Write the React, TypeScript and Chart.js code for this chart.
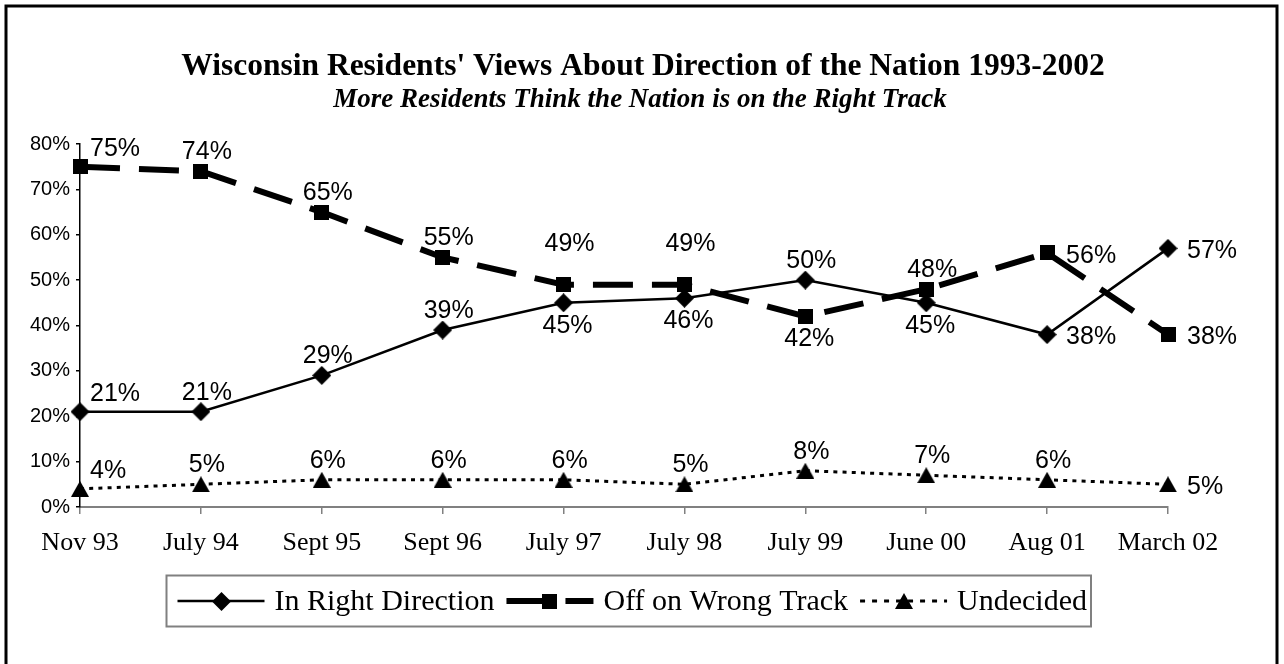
import React, { useEffect, useRef } from "react";
import { Chart, registerables } from "chart.js";

Chart.register(...registerables);

const categories = ["Nov 93", "July 94", "Sept 95", "Sept 96", "July 97", "July 98", "July 99", "June 00", "Aug 01", "March 02"];
const rightDirection = [21, 21, 29, 39, 45, 46, 50, 45, 38, 57];
const wrongTrack = [75, 74, 65, 55, 49, 49, 42, 48, 56, 38];
const undecided = [4, 5, 6, 6, 6, 5, 8, 7, 6, 5];
const yTickValues = [0, 10, 20, 30, 40, 50, 60, 70, 80];
const seriesNames = ["In Right Direction", "Off on Wrong Track", "Undecided"];
const titleText = "Wisconsin Residents' Views About Direction of the Nation 1993-2002";
const subtitleText = "More Residents Think the Nation is on the Right Track";

const W = 1284;
const H = 664;

function makeMarker(kind: string): HTMLCanvasElement {
  const c = document.createElement("canvas");
  let w = 19;
  let h = 19;
  if (kind === "rect") { w = 15; h = 15; }
  if (kind === "triangle") { w = 18; h = 16; }
  c.width = w;
  c.height = h;
  const ctx = c.getContext("2d") as CanvasRenderingContext2D;
  ctx.fillStyle = "#000";
  ctx.beginPath();
  if (kind === "rectRot") {
    ctx.moveTo(w / 2, 0);
    ctx.lineTo(w, h / 2);
    ctx.lineTo(w / 2, h);
    ctx.lineTo(0, h / 2);
  } else if (kind === "rect") {
    ctx.rect(0, 0, w, h);
  } else {
    ctx.moveTo(w / 2, 0);
    ctx.lineTo(w, h);
    ctx.lineTo(0, h);
  }
  ctx.closePath();
  ctx.fill();
  return c;
}

const framePlugin = {
  id: "frame",
  beforeDraw(chart: any) {
    const ctx = chart.ctx as CanvasRenderingContext2D;
    ctx.save();
    ctx.fillStyle = "#fff";
    ctx.fillRect(0, 0, W, H);
    ctx.restore();
  },
  afterDraw(chart: any) {
    const ctx = chart.ctx as CanvasRenderingContext2D;
    ctx.save();
    ctx.strokeStyle = "#000";
    ctx.lineWidth = 3;
    ctx.strokeRect(6, 6, 1271, H + 20);
    ctx.fillStyle = "#000";
    ctx.textAlign = "center";
    ctx.textBaseline = "alphabetic";
    ctx.font = "bold 31.5px 'Liberation Serif'";
    ctx.fillText(titleText, 643, 75);
    ctx.font = "italic bold 27px 'Liberation Serif'";
    ctx.fillText(subtitleText, 640, 107);
    ctx.restore();
  },
};

const labelPlugin = {
  id: "valueLabels",
  afterDatasetsDraw(chart: any) {
    const ctx = chart.ctx as CanvasRenderingContext2D;
    ctx.save();
    ctx.fillStyle = "#000";
    ctx.font = "25px 'Liberation Sans'";
    chart.data.datasets.forEach((ds: any, di: number) => {
      const meta = chart.getDatasetMeta(di);
      meta.data.forEach((pt: any, i: number) => {
        const pos = ds.labelPos[i];
        const txt = ds.data[i] + "%";
        let x = pt.x;
        let y = pt.y;
        ctx.textBaseline = "middle";
        if (pos === "n") { ctx.textAlign = "center"; x += 6; y -= 19; }
        else if (pos === "nn") { ctx.textAlign = "center"; x += 6; y -= 41; }
        else if (pos === "s") { ctx.textAlign = "center"; x += 4; y += 23; }
        else if (pos === "ne") { ctx.textAlign = "left"; x += 10; y -= 18; }
        else { ctx.textAlign = "left"; x += 19; y += 3; }
        ctx.fillText(txt, x, y);
      });
    });
    ctx.restore();
  },
};

const legendPlugin = {
  id: "boxLegend",
  afterDraw(chart: any) {
    const ctx = chart.ctx as CanvasRenderingContext2D;
    ctx.save();
    ctx.font = "30px 'Liberation Serif'";
    const sample = 87;
    const gapAfterSample = 10;
    const gapAfterText = 12;
    const padL = 11;
    const padR = 4;
    const items = chart.data.datasets.map((ds: any) => ({ ds, w: ctx.measureText(ds.label).width }));
    let total = padL + padR;
    items.forEach((it: any, k: number) => {
      total += sample + gapAfterSample + it.w + (k < items.length - 1 ? gapAfterText : 0);
    });
    const cx = 628;
    const left = Math.round(cx - total / 2) + 0.5;
    const top = 575.5;
    const bottom = 626.5;
    ctx.strokeStyle = "#808080";
    ctx.lineWidth = 2;
    ctx.strokeRect(left, top, total, bottom - top);
    const my = 601;
    let x = left + padL;
    items.forEach((it: any) => {
      const ds = it.ds;
      ctx.save();
      ctx.strokeStyle = "#000";
      ctx.lineWidth = ds.borderWidth;
      ctx.setLineDash(ds.legendDash || ds.borderDash || []);
      ctx.lineCap = "butt";
      ctx.beginPath();
      ctx.moveTo(x, my);
      ctx.lineTo(x + sample, my);
      ctx.stroke();
      ctx.restore();
      const img = ds.pointStyle as HTMLCanvasElement;
      ctx.drawImage(img, Math.round(x + sample / 2 - img.width / 2), Math.round(my - img.height / 2));
      x += sample + gapAfterSample;
      ctx.fillStyle = "#000";
      ctx.textAlign = "left";
      ctx.textBaseline = "middle";
      ctx.fillText(ds.label, x, my + 1);
      x += it.w + gapAfterText;
    });
    ctx.restore();
  },
};

export default function App() {
  const ref = useRef<HTMLCanvasElement | null>(null);

  useEffect(() => {
    document.body.style.margin = "0";
    const canvas = ref.current;
    if (!canvas) return;
    const diamond = makeMarker("rectRot");
    const square = makeMarker("rect");
    const triangle = makeMarker("triangle");
    const chart = new Chart(canvas, {
      type: "line",
      data: {
        labels: categories,
        datasets: [
          {
            label: seriesNames[0],
            data: rightDirection,
            borderColor: "#000",
            backgroundColor: "#000",
            borderWidth: 2.5,
            pointStyle: diamond,
            pointRadius: 9,
            tension: 0,
            clip: false,
            labelPos: ["ne", "n", "n", "n", "s", "s", "n", "s", "e", "e"],
          } as any,
          {
            label: seriesNames[1],
            data: wrongTrack,
            borderColor: "#000",
            backgroundColor: "#000",
            borderWidth: 6,
            borderDash: [40, 19],
            borderCapStyle: "butt",
            pointStyle: square,
            pointRadius: 8,
            tension: 0,
            clip: false,
            labelPos: ["ne", "n", "n", "n", "nn", "nn", "s", "n", "e", "e"],
          } as any,
          {
            label: seriesNames[2],
            data: undecided,
            borderColor: "#000",
            backgroundColor: "#000",
            borderWidth: 3,
            borderDash: [4, 5.2],
            legendDash: [5, 7],
            borderCapStyle: "butt",
            pointStyle: triangle,
            pointRadius: 9,
            tension: 0,
            clip: false,
            labelPos: ["ne", "n", "n", "n", "n", "n", "n", "n", "n", "e"],
          } as any,
        ],
      },
      options: {
        responsive: false,
        animation: false,
        events: [],
        layout: { padding: { left: 0, top: 144, right: 116, bottom: 97 } },
        plugins: {
          legend: { display: false },
          title: { display: false },
          tooltip: { enabled: false },
        },
        scales: {
          x: {
            type: "category",
            offset: false,
            grid: {
              display: true,
              drawOnChartArea: false,
              drawTicks: true,
              tickLength: 7,
              color: "#808080",
              lineWidth: 1.5,
            },
            border: { display: true, color: "#808080", width: 2 },
            ticks: {
              color: "#000",
              font: { family: "'Liberation Serif'", size: 26 },
              padding: 14,
              maxRotation: 0,
              autoSkip: false,
            },
            afterFit: (s: any) => {
              s.height = 60;
            },
          },
          y: {
            min: 0,
            max: 80,
            afterBuildTicks: (s: any) => {
              s.ticks = yTickValues.map((v) => ({ value: v }));
            },
            grid: {
              display: true,
              drawOnChartArea: false,
              drawTicks: true,
              tickLength: 4,
              color: "#000",
              lineWidth: 1.5,
            },
            border: { display: true, color: "#000", width: 1.5 },
            ticks: {
              color: "#000",
              font: { family: "'Liberation Sans'", size: 20 },
              padding: 6,
              callback: (v: any) => v + "%",
            },
            afterFit: (s: any) => {
              s.width = 80;
            },
          },
        },
      },
      plugins: [framePlugin, labelPlugin, legendPlugin],
    } as any);
    return () => chart.destroy();
  }, []);

  return (
    <div style={{ width: W, height: H }}>
      <canvas ref={ref} width={W} height={H} style={{ display: "block", width: W, height: H }} />
    </div>
  );
}
